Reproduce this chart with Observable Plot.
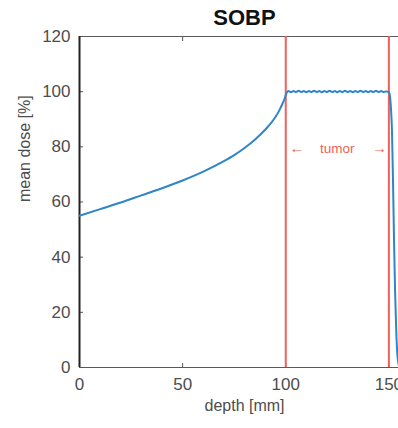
<!DOCTYPE html>
<html>
<head>
<meta charset="utf-8">
<script src="https://cdn.jsdelivr.net/npm/d3@7"></script>
<script src="https://cdn.jsdelivr.net/npm/@observablehq/plot@0.6"></script>
<style>
  html, body { margin: 0; padding: 0; background: #fff; overflow: hidden; }
  #chart { width: 398px; height: 428px; overflow: hidden; }
  #chart svg { display: block; max-width: none !important; height: 428px !important; }
</style>
</head>
<body>
<div id="chart"></div>
<script>
// Spread-out Bragg peak: depth (mm) and mean dose (%)
const depth = [
  0, 10, 20, 30, 40, 50, 60, 70, 75, 80, 85, 90, 93, 95, 97, 98.5, 99.5, 100, 100.6,
  101.25, 102.5, 103.75, 105, 106.25, 107.5, 108.75, 110, 111.25, 112.5, 113.75, 115,
  116.25, 117.5, 118.75, 120, 121.25, 122.5, 123.75, 125, 126.25, 127.5, 128.75, 130,
  131.25, 132.5, 133.75, 135, 136.25, 137.5, 138.75, 140, 141.25, 142.5, 143.75, 145,
  146.25, 147.5, 148.75, 150,
  150.5, 151, 151.5, 152, 152.5, 153, 153.5, 154, 154.5, 155, 156, 160
];
const dose = [
  55, 57.4, 59.8, 62.4, 65, 67.8, 71, 74.8, 77, 79.6, 82.6, 86.2, 88.8, 90.8, 93.4, 95.8, 97.6, 98.8, 99.8,
  100.2, 99.9, 100.2, 99.9, 100.3, 99.9, 100.2, 99.8, 100.2, 99.9, 100.3, 99.9,
  100.2, 99.8, 100.2, 99.9, 100.3, 99.9, 100.2, 99.8, 100.2, 99.9, 100.3, 99.9,
  100.2, 99.8, 100.2, 99.9, 100.3, 99.9, 100.2, 99.8, 100.2, 99.9, 100.3, 99.9,
  100.2, 99.9, 100.1, 99.9,
  98.5, 94, 86, 68, 46, 28, 15, 6, 2, 0.5, 0, 0
];
// Tumor boundaries (mm)
const tumorEdges = [100, 150];
const xTicks = [0, 50, 100, 150];
const yTicks = [0, 20, 40, 60, 80, 100, 120];

const curve = depth.map((d, i) => ({depth: d, dose: dose[i]}));

const red = "#f0605a";
const font = "'Liberation Sans', Arial, sans-serif";

const chart = Plot.plot({
  width: 440,
  height: 428,
  marginLeft: 79,
  marginRight: 31,
  marginTop: 36,
  marginBottom: 61,
  style: {fontFamily: font, background: "white", overflow: "visible"},
  x: {domain: [0, 160]},
  y: {domain: [0, 120]},
  marks: [
    Plot.frame({stroke: "#5a5a5a", strokeWidth: 1}),
    Plot.axisX(xTicks, {
      tickSize: -4, tickPadding: 14, stroke: "#555", fill: "#4d4d4d",
      fontSize: 17, label: null
    }),
    Plot.axisX(xTicks, {anchor: "top", tickSize: -4, stroke: "#555", text: null, label: null}),
    Plot.axisY(yTicks, {
      tickSize: -4, tickPadding: 13, stroke: "#555", fill: "#4d4d4d",
      fontSize: 17, label: null
    }),
    Plot.ruleX([0], {stroke: "#222", strokeWidth: 2}),
    Plot.ruleX(tumorEdges, {stroke: red, strokeWidth: 2}),
    Plot.line(curve, {x: "depth", y: "dose", stroke: "#2e86c8", strokeWidth: 2, curve: "monotone-x"}),
    Plot.text(["tumor"], {x: 125, y: 79.5, fill: red, fontSize: 13.5}),
    Plot.text(["←"], {x: 105.5, y: 79.5, fill: red, fontSize: 15}),
    Plot.text(["→"], {x: 145.5, y: 79.5, fill: red, fontSize: 15}),
    Plot.text(["SOBP"], {frameAnchor: "top", dy: -27, fontSize: 22, fontWeight: "bold", fill: "#111"}),
    Plot.text(["depth [mm]"], {frameAnchor: "bottom", dy: 43, fontSize: 16, fill: "#4d4d4d"}),
    Plot.text(["mean dose [%]"], {frameAnchor: "left", dx: -55, rotate: -90, fontSize: 16, fill: "#4d4d4d"})
  ]
});

document.getElementById("chart").appendChild(chart);
</script>
</body>
</html>
